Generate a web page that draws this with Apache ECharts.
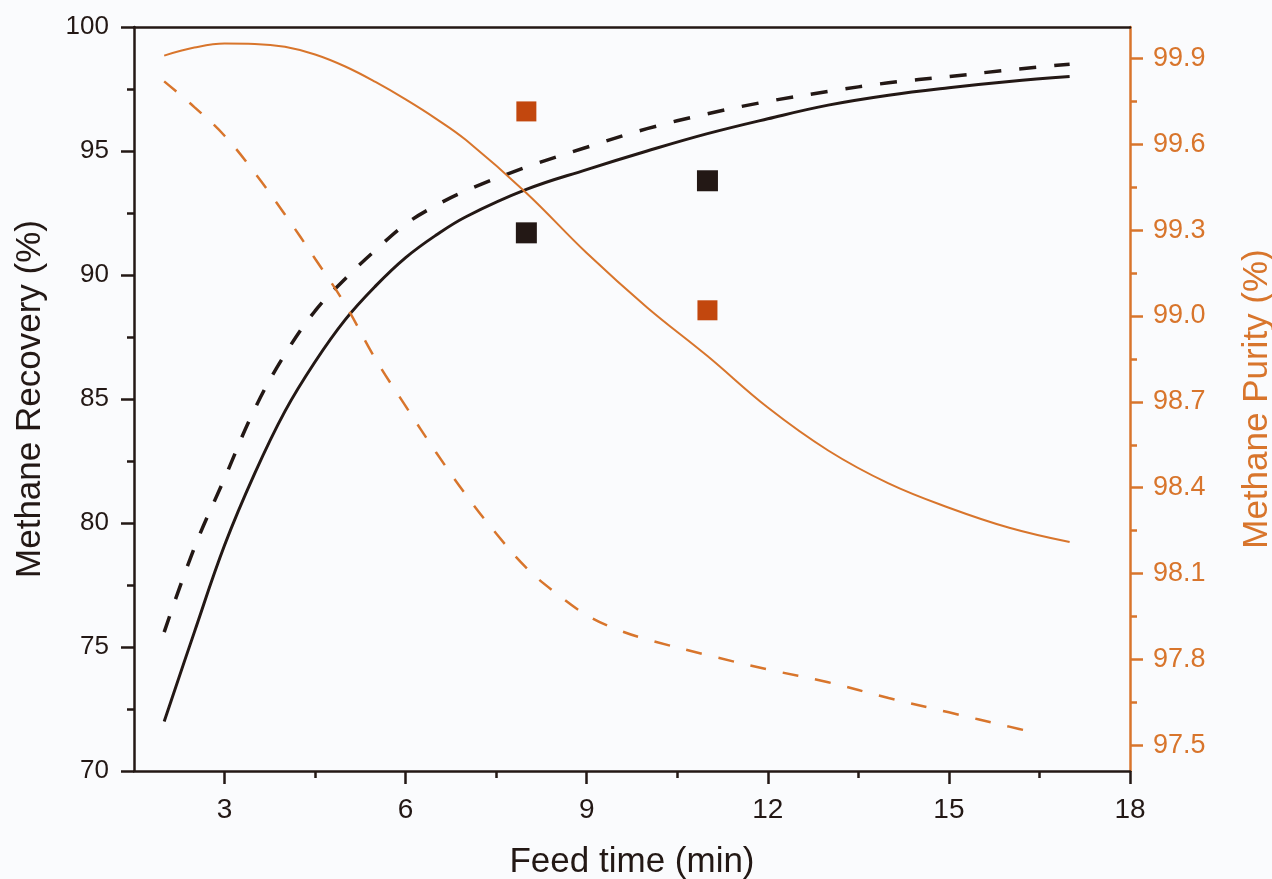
<!DOCTYPE html>
<html>
<head>
<meta charset="utf-8">
<script src="https://cdn.jsdelivr.net/npm/echarts@6/dist/echarts.min.js"></script>
<style>
  html, body { margin: 0; padding: 0; background: #fafbfd; }
  #chart { width: 1272px; height: 879px; }
</style>
</head>
<body>
<div id="chart"></div>
<script>
// feed time (min) for the model curves
var modelX = [2, 2.5, 3, 3.5, 4, 4.5, 5, 5.5, 6, 6.5, 7, 8, 9, 10, 11, 12, 13, 14, 15, 16, 17]
var recoverySolid = [72.0, 75.6, 79.1, 82.0, 84.5, 86.5, 88.2, 89.55, 90.7, 91.6, 92.35, 93.45, 94.25, 95.0, 95.7, 96.3, 96.85, 97.25, 97.55, 97.8, 98.0]
var recoveryDashed = [75.6, 79.0, 81.8, 84.6, 86.8, 88.55, 89.85, 91.0, 92.05, 92.8, 93.4, 94.35, 95.15, 95.9, 96.5, 97.0, 97.4, 97.75, 98.0, 98.27, 98.5]
var puritySolid = [99.91, 99.938, 99.952, 99.951, 99.941, 99.914, 99.872, 99.818, 99.757, 99.69, 99.615, 99.43, 99.22, 99.03, 98.86, 98.68, 98.53, 98.415, 98.33, 98.26, 98.21]

var purityDashedX = [2, 2.5, 3, 3.5, 4, 4.5, 5, 5.5, 6, 6.5, 7, 7.5, 8, 8.5, 9, 9.5, 10, 11, 12, 13, 14, 15, 16, 16.5]
var purityDashed = [99.82, 99.73, 99.63, 99.50, 99.355, 99.2, 99.04, 98.85, 98.685, 98.525, 98.375, 98.24, 98.12, 98.03, 97.955, 97.905, 97.87, 97.815, 97.765, 97.72, 97.665, 97.615, 97.565, 97.54]

// experimental points
var expX = [8, 11]
var expRecovery = [91.7, 93.8]
var expPurity = [99.715, 99.02]

// tick labels
var xTicks = [3, 6, 9, 12, 15, 18]
var xMinorTicks = [4.5, 7.5, 10.5, 13.5, 16.5]
var purityTicks = [97.5, 97.8, 98.1, 98.4, 98.7, 99.0, 99.3, 99.6, 99.9]
var purityMinorTicks = [97.65, 97.95, 98.25, 98.55, 98.85, 99.15, 99.45, 99.75]

var BLACK = '#231815'
var ORANGE = '#d8752c'
var ORANGE_DARK = '#c2470e'
var FONT = 'Liberation Sans'

function pairs(xs, ys) {
  return xs.map(function(x, i) { return [x, ys[i]] })
}

var chart = echarts.init(document.getElementById('chart'))
chart.setOption({
  backgroundColor: '#fafbfd',
  animation: false,
  textStyle: { fontFamily: FONT },
  grid: { left: 134, right: 142, top: 27, bottom: 108, containLabel: false, outerBoundsMode: 'none' },
  xAxis: [
    {
      type: 'value',
      min: 1.5,
      max: 18,
      position: 'bottom',
      name: 'Feed time (min)',
      nameLocation: 'middle',
      nameGap: 74,
      nameTextStyle: { fontSize: 35, color: BLACK, fontFamily: FONT },
      splitLine: { show: false },
      axisLine: { onZero: false, lineStyle: { color: BLACK, width: 2.5 } },
      axisTick: { customValues: xTicks, length: 13, lineStyle: { color: BLACK, width: 2.5 } },
      axisLabel: { customValues: xTicks, margin: 25, fontSize: 28, color: BLACK, fontFamily: FONT }
    },
    {
      // minor ticks only
      type: 'value',
      min: 1.5,
      max: 18,
      position: 'bottom',
      splitLine: { show: false },
      axisLine: { show: false, onZero: false },
      axisTick: { customValues: xMinorTicks, length: 7, lineStyle: { color: BLACK, width: 2.5 } },
      axisLabel: { show: false }
    },
    {
      // top frame line
      type: 'value',
      min: 1.5,
      max: 18,
      position: 'top',
      splitLine: { show: false },
      axisLine: { onZero: false, lineStyle: { color: BLACK, width: 2.5 } },
      axisTick: { show: false },
      axisLabel: { show: false }
    }
  ],
  yAxis: [
    {
      type: 'value',
      min: 70,
      max: 100,
      interval: 5,
      position: 'left',
      name: 'Methane Recovery (%)',
      nameLocation: 'middle',
      nameGap: 86,
      nameTextStyle: { fontSize: 35, color: BLACK, fontFamily: FONT },
      splitLine: { show: false },
      axisLine: { show: true, onZero: false, lineStyle: { color: BLACK, width: 2.5 } },
      axisTick: { length: 13, lineStyle: { color: BLACK, width: 2.5 } },
      minorTick: { show: true, splitNumber: 2, length: 7, lineStyle: { color: BLACK, width: 2.5 } },
      axisLabel: { margin: 25, fontSize: 26, color: BLACK, fontFamily: FONT }
    },
    {
      type: 'value',
      min: 97.41,
      max: 100.01,
      position: 'right',
      name: 'Methane Purity (%)',
      nameLocation: 'middle',
      nameGap: 110,
      nameTextStyle: { fontSize: 35, color: ORANGE, fontFamily: FONT },
      splitLine: { show: false },
      axisLine: { show: true, onZero: false, lineStyle: { color: ORANGE, width: 2.5 } },
      axisTick: { customValues: purityTicks, length: 13, lineStyle: { color: ORANGE, width: 2.5 } },
      axisLabel: {
        customValues: purityTicks,
        margin: 23,
        fontSize: 27,
        color: ORANGE,
        fontFamily: FONT,
        formatter: function(v) { return v.toFixed(1) }
      }
    },
    {
      // right minor ticks
      type: 'value',
      min: 97.41,
      max: 100.01,
      position: 'right',
      splitLine: { show: false },
      axisLine: { show: false },
      axisTick: { customValues: purityMinorTicks, length: 7, lineStyle: { color: ORANGE, width: 2.5 } },
      axisLabel: { show: false }
    }
  ],
  series: [
    {
      name: 'Recovery model',
      type: 'line',
      yAxisIndex: 0,
      data: pairs(modelX, recoverySolid),
      smooth: 0.4,
      showSymbol: false,
      lineStyle: { color: BLACK, width: 3 }
    },
    {
      name: 'Recovery model 2',
      type: 'line',
      yAxisIndex: 0,
      data: pairs(modelX, recoveryDashed),
      smooth: 0.4,
      showSymbol: false,
      lineStyle: { color: BLACK, width: 3.5, type: [17, 18] }
    },
    {
      name: 'Purity model',
      type: 'line',
      yAxisIndex: 1,
      data: pairs(modelX, puritySolid),
      smooth: 0.4,
      showSymbol: false,
      lineStyle: { color: ORANGE, width: 2 }
    },
    {
      name: 'Purity model 2',
      type: 'line',
      yAxisIndex: 1,
      data: pairs(purityDashedX, purityDashed),
      smooth: 0.4,
      showSymbol: false,
      lineStyle: { color: ORANGE, width: 2.5, type: [16, 17] }
    },
    {
      name: 'Recovery exp',
      type: 'scatter',
      yAxisIndex: 0,
      data: pairs(expX, expRecovery),
      symbol: 'rect',
      symbolSize: 21,
      itemStyle: { color: BLACK, opacity: 1 }
    },
    {
      name: 'Purity exp',
      type: 'scatter',
      yAxisIndex: 1,
      data: pairs(expX, expPurity),
      symbol: 'rect',
      symbolSize: 20,
      itemStyle: { color: ORANGE_DARK, opacity: 1 }
    }
  ]
})
</script>
</body>
</html>
